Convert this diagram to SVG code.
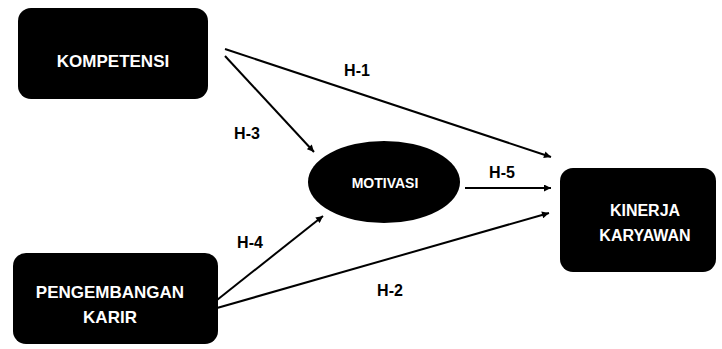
<svg xmlns="http://www.w3.org/2000/svg" width="722" height="349" viewBox="0 0 722 349">
<defs>
<style>
.box{fill:#000}
.nt{font-family:"Liberation Sans",Arial,sans-serif;font-weight:bold;fill:#fff;text-anchor:middle}
.lb{font-family:"Liberation Sans",Arial,sans-serif;font-weight:bold;fill:#000;text-anchor:middle;font-size:16px}
.cn{stroke:#000;stroke-width:2;fill:none;marker-end:url(#ah)}
</style>
<marker id="ah" viewBox="0 0 10 10" refX="10" refY="5" markerWidth="8" markerHeight="7" markerUnits="userSpaceOnUse" orient="auto">
<path d="M0,0 L10,5 L0,10 z" fill="#000"/>
</marker>
</defs>
<rect width="722" height="349" fill="#fff"/>
<g id="kompetensi">
<rect class="box" x="18" y="8" width="190" height="91" rx="13"/>
<text class="nt" x="113" y="67" font-size="17">KOMPETENSI</text>
</g>
<g id="pengembangan-karir">
<rect class="box" x="13" y="253" width="205" height="91" rx="13"/>
<text class="nt" x="110" y="298" font-size="17">PENGEMBANGAN</text>
<text class="nt" x="110" y="323" font-size="17">KARIR</text>
</g>
<g id="motivasi">
<ellipse class="box" cx="384" cy="182" rx="76" ry="41"/>
<text class="nt" x="385" y="188" font-size="14">MOTIVASI</text>
</g>
<g id="kinerja-karyawan">
<rect class="box" x="560" y="168" width="156" height="104" rx="13"/>
<text class="nt" x="645" y="216" font-size="16">KINERJA</text>
<text class="nt" x="645" y="241" font-size="16">KARYAWAN</text>
</g>
<g id="connectors">
<line class="cn" x1="225" y1="49" x2="551" y2="157"/>
<line class="cn" x1="225" y1="56" x2="314" y2="152"/>
<line class="cn" x1="465" y1="188" x2="551" y2="188"/>
<line class="cn" x1="217" y1="300" x2="323" y2="216"/>
<line class="cn" x1="217" y1="308" x2="549" y2="213"/>
<text class="lb" x="357" y="76">H-1</text>
<text class="lb" x="247" y="139">H-3</text>
<text class="lb" x="502" y="178">H-5</text>
<text class="lb" x="250" y="248">H-4</text>
<text class="lb" x="390" y="296">H-2</text>
</g>
</svg>
